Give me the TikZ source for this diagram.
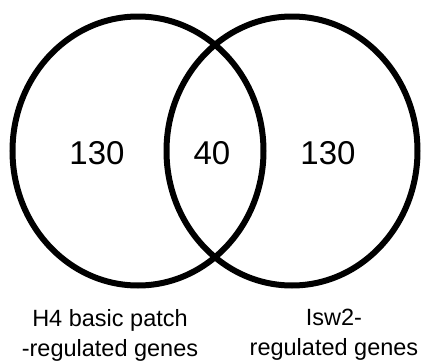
\documentclass[tikz,border=0pt]{standalone}
\usepackage{fontspec}
\setmainfont{Liberation Sans}
\usetikzlibrary{shapes.geometric}
\begin{document}
\begin{tikzpicture}[x=1pt,y=-1pt,
  setring/.style={draw=black, ellipse, line width=6pt, minimum width=251pt, minimum height=269pt, inner sep=0pt},
  count/.style={font=\fontsize{33}{38}\selectfont, inner sep=0pt},
  caption/.style={font=\fontsize{23.5}{30}\selectfont, align=center, inner sep=0pt}]
\useasboundingbox (0,0) rectangle (424,362);
\node[setring] (L) at (138,151) {};
\node[setring] (R) at (292,151) {};
\node[count] (nl) at (97,153) {130};
\node[count] (nm) at (212,153) {40};
\node[count] (nr) at (328,153) {130};
\node[caption] (cl) at (110,335) {H4 basic patch\\-regulated genes};
\node[caption] (cr) at (334,335) {Isw2-\\regulated genes};
\end{tikzpicture}
\end{document}
